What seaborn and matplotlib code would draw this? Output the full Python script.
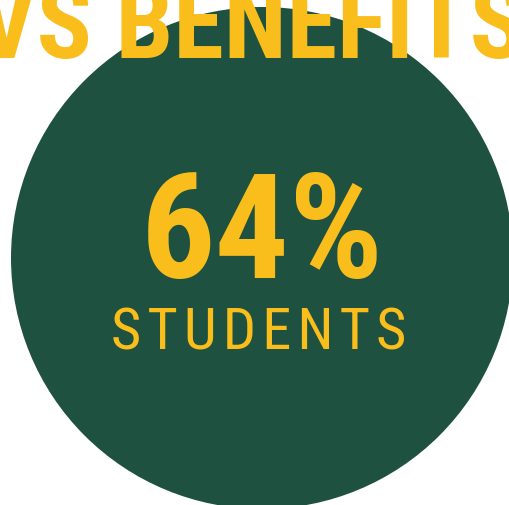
import matplotlib
matplotlib.use("Agg")
import matplotlib.pyplot as plt
from matplotlib import font_manager
from matplotlib.patches import Circle
import seaborn as sns

# Figure content
headline = "VS BENEFITS"
share_pct = [64]
group_labels = ["STUDENTS"]

GREEN = "#1E513F"
YELLOW = "#F9BE1C"

sns.set_theme(style="white")

installed = {f.name for f in font_manager.fontManager.ttflist}
def pick(*names):
    for n in names:
        if n in installed:
            return n
    return "DejaVu Sans"

narrow = pick("Roboto Condensed", "Liberation Sans Narrow", "DejaVu Sans Condensed",
              "Liberation Sans")
plt.rcParams["font.family"] = [narrow, "DejaVu Sans"]

W, H = 510, 506
fig = plt.figure(figsize=(W / 100, H / 100), dpi=100)
ax = fig.add_axes([0, 0, 1, 1])
ax.set_xlim(0, W)
ax.set_ylim(H, 0)
ax.set_aspect("equal")
ax.axis("off")
fig.patch.set_facecolor("white")

# Badge disc
ax.add_patch(Circle((262, 259), 251, facecolor=GREEN, edgecolor="none", zorder=1))

# Headline, partly cropped at the top
ax.text(251, 58, headline, color=YELLOW, fontsize=74, fontweight="bold",
        ha="center", va="baseline", zorder=3)

# Big percentage
ax.text(262, 278, f"{share_pct[0]}%", color=YELLOW, fontsize=106, fontweight="bold",
        ha="center", va="baseline", zorder=3)

# Letter-spaced group label (hair spaces between letters)
ax.text(259, 350, "\u200a".join(group_labels[0]), color=YELLOW, fontsize=42,
        ha="center", va="baseline", zorder=3)

fig.savefig("out.png", dpi=100, facecolor="white")
